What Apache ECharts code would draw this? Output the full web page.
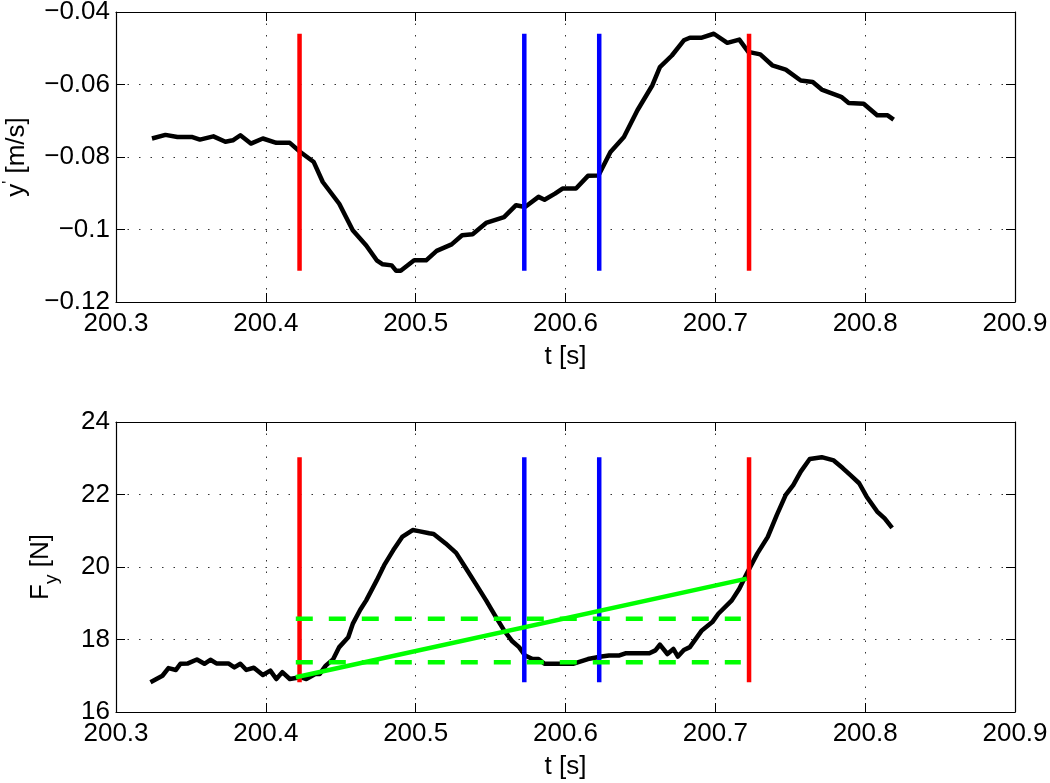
<!DOCTYPE html>
<html>
<head>
<meta charset="utf-8">
<script src="https://cdn.jsdelivr.net/npm/echarts@6/dist/echarts.min.js"></script>
<style>html,body{margin:0;padding:0;background:#fff;}#c{width:1050px;height:783px;}</style>
</head>
<body>
<div id="c"></div>
<script>
// ---- data ----
const tTop = [200.324,200.333,200.341,200.351,200.356,200.365,200.373,200.378,200.383,200.390,200.398,200.407,200.416,200.423,200.432,200.438,200.449,200.458,200.467,200.474,200.478,200.484,200.487,200.490,200.499,200.507,200.514,200.524,200.531,200.538,200.547,200.559,200.567,200.573,200.582,200.586,200.593,200.598,200.607,200.615,200.622,200.630,200.639,200.648,200.658,200.663,200.671,200.679,200.683,200.691,200.699,200.708,200.716,200.722,200.730,200.738,200.747,200.757,200.765,200.771,200.784,200.789,200.799,200.808,200.815,200.819];
const yTop = [-0.0749,-0.0739,-0.0745,-0.0745,-0.0752,-0.0743,-0.0758,-0.0754,-0.0740,-0.0763,-0.0749,-0.0761,-0.0761,-0.0786,-0.0814,-0.0869,-0.0929,-0.1002,-0.1044,-0.1085,-0.1096,-0.1099,-0.1114,-0.1114,-0.1085,-0.1085,-0.1059,-0.1041,-0.1016,-0.1013,-0.0982,-0.0966,-0.0933,-0.0938,-0.0910,-0.0918,-0.0901,-0.0887,-0.0887,-0.0852,-0.0851,-0.0786,-0.0745,-0.0671,-0.0602,-0.0552,-0.0520,-0.0478,-0.0471,-0.0471,-0.0460,-0.0485,-0.0476,-0.0510,-0.0517,-0.0547,-0.0559,-0.0589,-0.0593,-0.0614,-0.0634,-0.0651,-0.0653,-0.0685,-0.0685,-0.0697];
const tBot = [200.323,200.331,200.335,200.340,200.343,200.348,200.354,200.359,200.363,200.367,200.375,200.379,200.383,200.387,200.392,200.398,200.403,200.407,200.411,200.416,200.423,200.427,200.433,200.436,200.440,200.445,200.449,200.455,200.458,200.463,200.467,200.474,200.479,200.485,200.491,200.498,200.502,200.509,200.512,200.520,200.527,200.533,200.540,200.547,200.553,200.559,200.5645,200.569,200.573,200.578,200.582,200.586,200.595,200.605,200.615,200.624,200.629,200.636,200.640,200.656,200.660,200.663,200.668,200.672,200.675,200.679,200.683,200.691,200.698,200.702,200.711,200.716,200.721,200.728,200.735,200.741,200.747,200.752,200.757,200.763,200.771,200.779,200.785,200.790,200.796,200.801,200.808,200.813,200.818];
const fBot = [16.82,17.00,17.21,17.16,17.33,17.34,17.45,17.33,17.44,17.34,17.34,17.23,17.33,17.16,17.22,17.02,17.14,16.91,17.10,16.91,16.96,16.91,17.05,17.05,17.28,17.46,17.79,18.06,18.43,18.82,19.08,19.63,20.05,20.46,20.83,21.02,20.99,20.93,20.91,20.65,20.39,20.00,19.54,19.08,18.66,18.25,17.95,17.79,17.56,17.46,17.46,17.33,17.33,17.33,17.46,17.53,17.56,17.56,17.62,17.62,17.70,17.86,17.60,17.74,17.53,17.71,17.79,18.25,18.48,18.71,19.08,19.40,19.82,20.37,20.83,21.43,21.99,22.26,22.63,22.98,23.03,22.94,22.73,22.54,22.31,21.94,21.53,21.34,21.08];
const redTimes = [200.4225, 200.7225];
const blueTimes = [200.5725, 200.6225];
const greenBandT = [200.42, 200.717];
const greenBandLevels = [17.37, 18.57];
const greenLineT = [200.42, 200.721];
const greenLineF = [16.96, 19.68];
const xTicks = { min: 200.3, max: 200.9, step: 0.1 };
const yTopTicks = { min: -0.12, max: -0.04, step: 0.02 };
const yBotTicks = { min: 16, max: 24, step: 2 };

// ---- chart ----
const FONT = 'Liberation Sans';
const zip = (a, b) => a.map((v, i) => [v, b[i]]);
const fmtNum = v => parseFloat(v.toFixed(4)).toString().replace('-', '\u2212');

function xAxes(gi) {
  const base = {
    type: 'value', gridIndex: gi, min: xTicks.min, max: xTicks.max, interval: xTicks.step,
    axisLine: { show: true, onZero: false, lineStyle: { color: '#000', width: 1.2 } },
    axisTick: { show: true, inside: true, length: 9, lineStyle: { color: '#000', width: 1 } },
  };
  return [
    Object.assign({}, base, {
      position: 'bottom',
      name: 't [s]', nameLocation: 'middle', nameGap: 42,
      nameTextStyle: { fontFamily: FONT, fontSize: 26, color: '#000' },
      axisLabel: { show: true, margin: 9, fontFamily: FONT, fontSize: 26, color: '#000', formatter: v => v.toFixed(1) },
      splitLine: { show: true, lineStyle: { color: '#333', width: 1, type: [1.5, 10] } }
    }),
    Object.assign({}, base, { position: 'top', axisLabel: { show: false }, splitLine: { show: false } })
  ];
}
function yAxes(gi, t, nameOpt) {
  const base = {
    type: 'value', gridIndex: gi, min: t.min, max: t.max, interval: t.step,
    axisLine: { show: true, onZero: false, lineStyle: { color: '#000', width: 1.2 } },
    axisTick: { show: true, inside: true, length: 9, lineStyle: { color: '#000', width: 1 } },
  };
  return [
    Object.assign({}, base, {
      position: 'left',
      axisLabel: { show: true, margin: 6, fontFamily: FONT, fontSize: 26, color: '#000', formatter: fmtNum },
      splitLine: { show: true, lineStyle: { color: '#333', width: 1, type: [1.5, 10] } }
    }, nameOpt),
    Object.assign({}, base, { position: 'right', axisLabel: { show: false }, splitLine: { show: false } })
  ];
}

function vlines(times, color, xi, yi, lo, hi) {
  return times.map(t => ({
    type: 'line', xAxisIndex: xi, yAxisIndex: yi, data: [[t, lo], [t, hi]],
    showSymbol: false, symbol: 'none', lineStyle: { color: color, width: 4.5, cap: 'butt' }, z: 3, silent: true
  }));
}

const yTopMin = Math.min(...yTop), yTopMax = Math.max(...yTop);
const fMin = Math.min(...fBot), fMax = Math.max(...fBot);

const series = [
  { type: 'line', xAxisIndex: 0, yAxisIndex: 0, data: zip(tTop, yTop), showSymbol: false, symbol: 'none',
    lineStyle: { color: '#000', width: 4.5, join: 'round' }, z: 2 },
  ...vlines(redTimes, '#ff0000', 0, 0, yTopMin, yTopMax),
  ...vlines(blueTimes, '#0000ff', 0, 0, yTopMin, yTopMax),
  { type: 'line', xAxisIndex: 2, yAxisIndex: 2, data: zip(tBot, fBot), showSymbol: false, symbol: 'none',
    lineStyle: { color: '#000', width: 4.5, join: 'round' }, z: 2 },
  ...vlines(redTimes, '#ff0000', 2, 2, fMin, fMax),
  ...vlines(blueTimes, '#0000ff', 2, 2, fMin, fMax),
  ...greenBandLevels.map(lv => ({
    type: 'line', xAxisIndex: 2, yAxisIndex: 2, data: [[greenBandT[0], lv], [greenBandT[1], lv]],
    showSymbol: false, symbol: 'none', lineStyle: { color: '#00ff00', width: 4.5, type: [17, 16], cap: 'butt' }, z: 4
  })),
  { type: 'line', xAxisIndex: 2, yAxisIndex: 2, data: zip(greenLineT, greenLineF), showSymbol: false, symbol: 'none',
    lineStyle: { color: '#00ff00', width: 4.5 }, z: 4 }
];

const chart = echarts.init(document.getElementById('c'), null, { renderer: 'canvas' });
chart.setOption({
  animation: false,
  backgroundColor: '#fff',
  grid: [
    { left: 116, right: 35, top: 12, height: 290, containLabel: false, outerBoundsMode: 'none' },
    { left: 116, right: 35, top: 422, height: 290, containLabel: false, outerBoundsMode: 'none' }
  ],
  xAxis: [...xAxes(0), ...xAxes(1)],
  yAxis: [
    ...yAxes(0, yTopTicks, {
      name: "{a|y}{p|'}{a| [m/s]}", nameLocation: 'middle', nameGap: 84, nameRotate: 90,
      nameTextStyle: { fontFamily: FONT, fontSize: 26, color: '#000',
        rich: { a: { fontFamily: FONT, fontSize: 26, color: '#000', lineHeight: 30 },
                p: { fontFamily: FONT, fontSize: 16, color: '#000', verticalAlign: 'top', lineHeight: 30 } } }
    }),
    ...yAxes(1, yBotTicks, {
      name: '{a|F}{s|y}{a| [N]}', nameLocation: 'middle', nameGap: 55, nameRotate: 90,
      nameTextStyle: { fontFamily: FONT, fontSize: 26, color: '#000',
        rich: { a: { fontFamily: FONT, fontSize: 26, color: '#000', lineHeight: 40 },
                s: { fontFamily: FONT, fontSize: 19, color: '#000', verticalAlign: 'bottom', lineHeight: 19 } } }
    })
  ],
  series: series
});
</script>
</body>
</html>
